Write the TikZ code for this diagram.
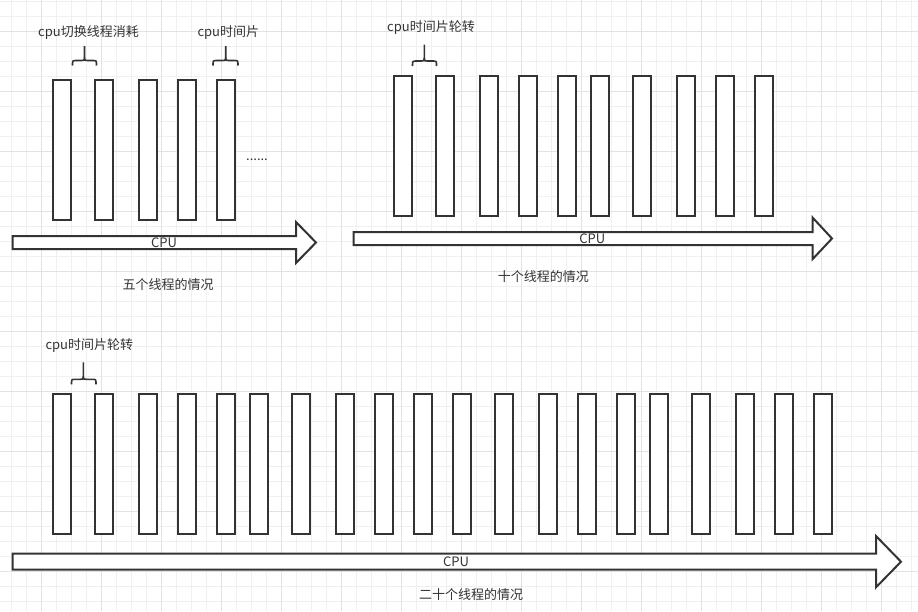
\documentclass[tikz,border=0pt]{standalone}
\usepackage{fontspec}
\setmainfont{Noto Sans CJK SC}
\definecolor{ink}{HTML}{333333}
\definecolor{gminor}{HTML}{F0F0F0}
\definecolor{gmajor}{HTML}{E2E2E2}
\newcommand\mybrace[5]{% #1 left, #2 middle, #3 right, #4 top, #5 bottom
  \draw[brace] (#1,#5) .. controls (#1,#5-5) .. (#1+4,#5-5) -- (#2-3,#5-5) .. controls (#2,#5-5) .. (#2,#5-8) -- (#2,#4);
  \draw[brace] (#3,#5) .. controls (#3,#5-5) .. (#3-4,#5-5) -- (#2+3,#5-5) .. controls (#2,#5-5) .. (#2,#5-8);
}
\begin{document}
\begin{tikzpicture}[x=1pt,y=-1pt,
  bar/.style={draw=ink, line width=2pt, fill=white, minimum width=18.6pt, minimum height=140pt, inner sep=0pt, outer sep=0pt},
  blockarrow/.style={draw=ink, line width=2pt, fill=white, line join=miter},
  lbl/.style={text=ink, font=\fontsize{13pt}{15pt}\selectfont, inner sep=0pt},
  brace/.style={draw=ink, line width=1.6pt},
  gridminor/.style={draw=gminor, line width=1pt},
  gridmajor/.style={draw=gmajor, line width=1pt}]
\useasboundingbox (0,0) rectangle (918,611);
\fill[white] (0,0) rectangle (918,611);
% grid
\foreach \k in {0,...,60} \draw[gridminor] (11.7+15*\k,0) -- (11.7+15*\k,611);
\foreach \k in {0,...,40} \draw[gridminor] (0,1.7+15*\k) -- (918,1.7+15*\k);
\foreach \k in {0,...,14} \draw[gridmajor] (41.7+60*\k,0) -- (41.7+60*\k,611);
\foreach \k in {0,...,9} \draw[gridmajor] (0,31.7+60*\k) -- (918,31.7+60*\k);

% ---------- five threads ----------
\foreach \c [count=\i] in {62,103.8,148,187,226}
  \node[bar] (a\i) at (\c,149.9) {};
\node[lbl, anchor=base] (dots) at (257,160) {......};
\draw[blockarrow] (12.7,236) -- (296,236) -- (296,222) -- (316,242.5) -- (296,263) -- (296,249) -- (12.7,249) -- cycle;
\node[lbl] (cpua) at (164,243) {CPU};
\node[lbl] (capa) at (168,285) {五个线程的情况};
\mybrace{72.5}{84.5}{96.5}{46}{65.5}
\node[lbl] (swa) at (88.5,33) {cpu切换线程消耗};
\mybrace{213}{225.7}{238}{46}{65.5}
\node[lbl] (tsa) at (228.3,33) {cpu时间片};

% ---------- ten threads ----------
\foreach \c [count=\i] in {403,444.8,489,528,567,600,642,686,725,764}
  \node[bar] (b\i) at (\c,146) {};
\draw[blockarrow] (353.7,232) -- (812.7,232) -- (812.7,217.7) -- (832,238.5) -- (812.7,259) -- (812.7,245) -- (353.7,245) -- cycle;
\node[lbl] (cpub) at (592.3,239) {CPU};
\node[lbl] (capb) at (543.3,276.7) {十个线程的情况};
\mybrace{412.5}{424.3}{436.5}{44.5}{66}
\node[lbl] (tsb) at (431,27.3) {cpu时间片轮转};

% ---------- twenty threads ----------
\foreach \c [count=\i] in {62,103.8,148,187,226,259,301,345,384,423,462,503.8,547.8,587,626,659,701,745,784,823}
  \node[bar] (c\i) at (\c,463.9) {};
\draw[blockarrow] (12.7,553.7) -- (876,553.7) -- (876,536) -- (901,561.7) -- (876,587.3) -- (876,569.7) -- (12.7,569.7) -- cycle;
\node[lbl] (cpuc) at (456,561.7) {CPU};
\node[lbl] (capc) at (471,595) {二十个线程的情况};
\mybrace{71.5}{83.3}{96}{362.3}{384.3}
\node[lbl] (tsc) at (89.3,345.7) {cpu时间片轮转};
\end{tikzpicture}
\end{document}
